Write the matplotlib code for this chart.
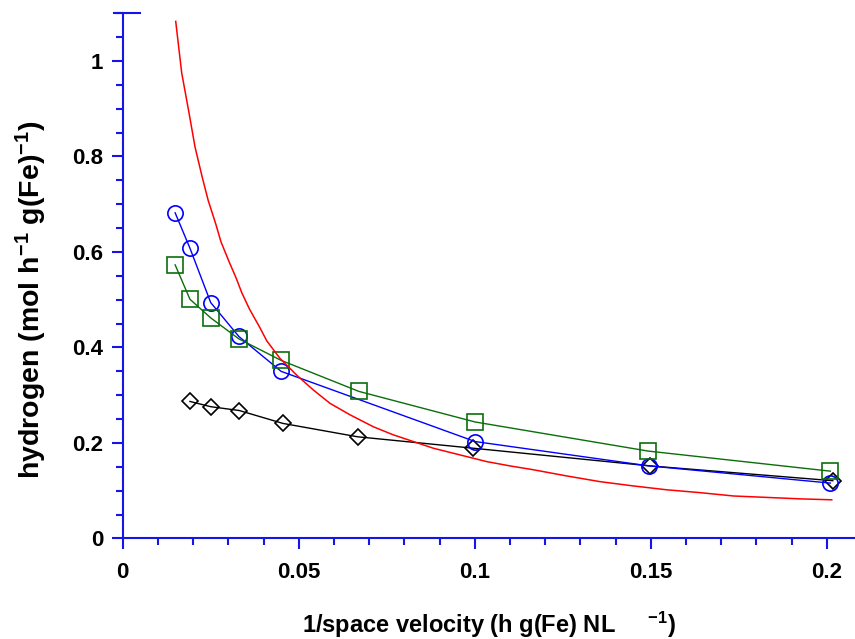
import matplotlib
matplotlib.use("Agg")
import matplotlib.pyplot as plt
from matplotlib.ticker import MultipleLocator, FormatStrFormatter

plt.rcParams['font.family'] = ['Liberation Sans', 'DejaVu Sans']
plt.rcParams['font.weight'] = 'bold'
plt.rcParams['mathtext.fontset'] = 'custom'
plt.rcParams['mathtext.rm'] = 'Liberation Sans:bold'
plt.rcParams['mathtext.bf'] = 'Liberation Sans:bold'
plt.rcParams['mathtext.default'] = 'bf'

# circles (blue)
blue_x = [0.0149, 0.0191, 0.0250, 0.0330, 0.0450, 0.1001, 0.1495, 0.2010]
blue_y = [0.682, 0.608, 0.494, 0.423, 0.350, 0.203, 0.152, 0.116]

# squares (green)
green_x = [0.0149, 0.0191, 0.0250, 0.0330, 0.0450, 0.0671, 0.1001, 0.1493, 0.2010]
green_y = [0.573, 0.501, 0.462, 0.418, 0.373, 0.308, 0.244, 0.183, 0.141]

# diamonds (black)
black_x = [0.0191, 0.0250, 0.0331, 0.0455, 0.0667, 0.0996, 0.1498, 0.2017]
black_y = [0.287, 0.276, 0.268, 0.241, 0.213, 0.189, 0.152, 0.121]

# red curve
red_x = [0.01506, 0.01676, 0.01892, 0.02054, 0.02261, 0.02432, 0.02642, 0.02793,
         0.03020, 0.03219, 0.03381, 0.03597, 0.03901, 0.04091, 0.04469, 0.04943,
         0.05415, 0.05889, 0.06457, 0.07119, 0.07688, 0.08256, 0.08824, 0.09582,
         0.1034, 0.1100, 0.1166, 0.1261, 0.1356, 0.1451, 0.1545, 0.1640,
         0.1735, 0.1830, 0.1924, 0.2014]
red_y = [1.083, 0.975, 0.888, 0.820, 0.756, 0.707, 0.659, 0.621,
         0.580, 0.546, 0.515, 0.481, 0.441, 0.414, 0.377, 0.342,
         0.311, 0.283, 0.259, 0.234, 0.217, 0.203, 0.189, 0.175,
         0.161, 0.152, 0.144, 0.131, 0.119, 0.110, 0.102, 0.096,
         0.089, 0.086, 0.083, 0.081]

axis_blue = '#1515e6'

fig = plt.figure(figsize=(8.55, 6.39), dpi=100)
ax = fig.add_axes([0.1435, 0.1573, 0.8565, 0.822])

ax.plot(black_x, black_y, '-D', color='black', lw=1.0, ms=7.8, mfc='none', mew=1.2)
ax.plot(blue_x, blue_y, '-o', color='#0000ff', lw=1.0, ms=11, mfc='none', mew=1.2)
ax.plot(green_x, green_y, '-s', color='#0a6e0a', lw=1.0, ms=11, mfc='none', mew=1.2)
ax.plot(red_x, red_y, '-', color='#ff0000', lw=1.1)

ax.set_xlim(0, 0.208)
ax.set_ylim(0, 1.1)

for s in ['top', 'right']:
    ax.spines[s].set_visible(False)
for s in ['left', 'bottom']:
    ax.spines[s].set_color(axis_blue)
    ax.spines[s].set_linewidth(1.5)

ax.xaxis.set_major_locator(MultipleLocator(0.05))
ax.xaxis.set_minor_locator(MultipleLocator(0.01))
ax.yaxis.set_major_locator(MultipleLocator(0.2))
ax.yaxis.set_minor_locator(MultipleLocator(0.05))
ax.xaxis.set_major_formatter(FormatStrFormatter('%g'))
ax.yaxis.set_major_formatter(FormatStrFormatter('%g'))

ax.tick_params(which='major', direction='out', length=8, width=1.5,
               color=axis_blue, labelsize=16, pad=6)
ax.tick_params(which='minor', direction='out', length=5, width=1.5, color=axis_blue)
ax.tick_params(axis='x', which='major', pad=9)

ax.plot([-0.012, 0.024], [1, 1], transform=ax.transAxes, clip_on=False,
        color=axis_blue, lw=1.5)

ax.set_xlabel(r'1/space velocity (h g(Fe) NL     $^{-1}$)', fontsize=17, fontweight='bold')
ax.set_ylabel(r'hydrogen (mol h$^{-1}$ g(Fe)$^{-1}$)', fontsize=20.5, fontweight='bold')
ax.xaxis.set_label_coords(0.5, -0.136)
ax.yaxis.set_label_coords(-0.1, 0.455)

fig.savefig('out.png', dpi=100)
